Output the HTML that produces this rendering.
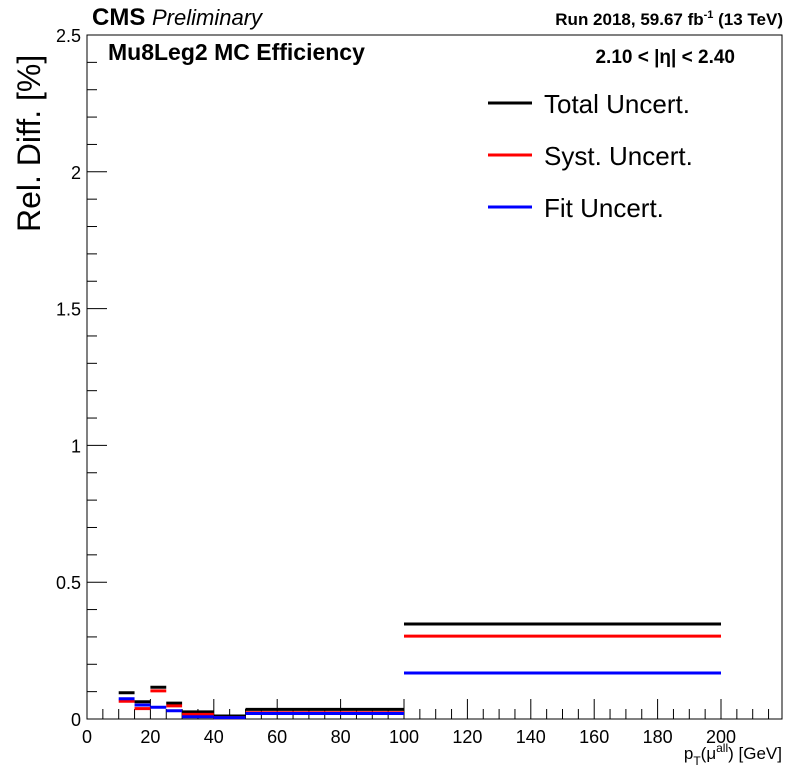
<!DOCTYPE html>
<html><head><meta charset="utf-8"><style>
body{margin:0;background:#fff;}
svg text{font-family:"Liberation Sans",Arial,sans-serif;}
</style></head><body>
<svg id="chart" width="798" height="775">
<g id="axes"></g><g id="marks"></g>
<text x="92" y="25" font-size="24" font-weight="bold">CMS <tspan font-weight="normal" font-style="italic" font-size="22">Preliminary</tspan></text>
<text x="783" y="25" font-size="17" font-weight="bold" text-anchor="end">Run 2018,  59.67 fb<tspan font-size="11" dy="-7">-1</tspan><tspan dy="7">  (13 TeV)</tspan></text>
<text x="108" y="60" font-size="23" font-weight="bold">Mu8Leg2 MC Efficiency</text>
<text x="735" y="63" font-size="19" font-weight="bold" text-anchor="end">2.10 &lt; |η| &lt; 2.40</text>
<text transform="translate(40,232) rotate(-90)" font-size="32">Rel. Diff. [%]</text>
<text x="782" y="759" font-size="17" text-anchor="end">p<tspan font-size="12" dy="6">T</tspan><tspan dy="-6">(μ</tspan><tspan font-size="12" dy="-7">all</tspan><tspan dy="7">) [GeV]</tspan></text>
<g>
<line x1="488" y1="103" x2="532" y2="103" stroke="#000" stroke-width="3"/><text x="544" y="113" font-size="26">Total Uncert.</text>
<line x1="488" y1="155" x2="532" y2="155" stroke="#f00" stroke-width="3"/><text x="544" y="165" font-size="26">Syst. Uncert.</text>
<line x1="488" y1="207" x2="532" y2="207" stroke="#00f" stroke-width="3"/><text x="544" y="217" font-size="26">Fit Uncert.</text>
</g>
</svg>
<script>
const binEdges=[10,15,20,25,30,40,50,100,200];
const totalVals=[0.096,0.063,0.116,0.058,0.026,0.011,0.035,0.347];
const systVals=[0.065,0.038,0.103,0.048,0.017,0.005,0.023,0.303];
const fitVals=[0.074,0.051,0.043,0.030,0.008,0.005,0.020,0.168];
const xTicks=[0,20,40,60,80,100,120,140,160,180,200];
const yTicks=[0,0.5,1,1.5,2,2.5];
const yTickLabels=["0","0.5","1","1.5","2","2.5"];
const L=87,R=782,T=35,B=719;
const xs=v=>L+v*(721-87)/200;
const ys=v=>B-v*(B-T)/2.5;
const NS="http://www.w3.org/2000/svg";
const ax=document.getElementById('axes'),mk=document.getElementById('marks');
function mk_(tag,attrs,parent){const e=document.createElementNS(NS,tag);for(const k in attrs)e.setAttribute(k,attrs[k]);parent.appendChild(e);return e;}
const fr=mk_('rect',{x:L,y:T,width:R-L,height:B-T,fill:'none',stroke:'#000','stroke-width':1},ax);


for(let v=0;v<=219;v+=5){const major=v%20===0;const l=mk_('line',{x1:xs(v),x2:xs(v),y1:B,y2:B-(major?20:10),stroke:'#000'},ax);

}
xTicks.forEach(v=>{const t=mk_('text',{x:xs(v),y:B+24,'font-size':18,'text-anchor':'middle'},ax);t.textContent=v;

});
for(let v=0;v<=2.5001;v+=0.1){const major=Math.abs(v/0.5-Math.round(v/0.5))<1e-6;const l=mk_('line',{x1:L,x2:L+(major?20:10),y1:ys(v),y2:ys(v),stroke:'#000'},ax);

}
yTicks.forEach((v,i)=>{const t=mk_('text',{x:L-6,y:ys(v)+7,'font-size':18,'text-anchor':'end'},ax);t.textContent=yTickLabels[i];

});
function series(vals,color,name){vals.forEach((v,i)=>{const l=mk_('line',{x1:xs(binEdges[i]),x2:xs(binEdges[i+1]),y1:ys(v),y2:ys(v),stroke:color,'stroke-width':3},mk);

});}
series(totalVals,'#000','total-uncert-bin');
series(systVals,'#f00','syst-uncert-bin');
series(fitVals,'#00f','fit-uncert-bin');
</script>
</body></html>
